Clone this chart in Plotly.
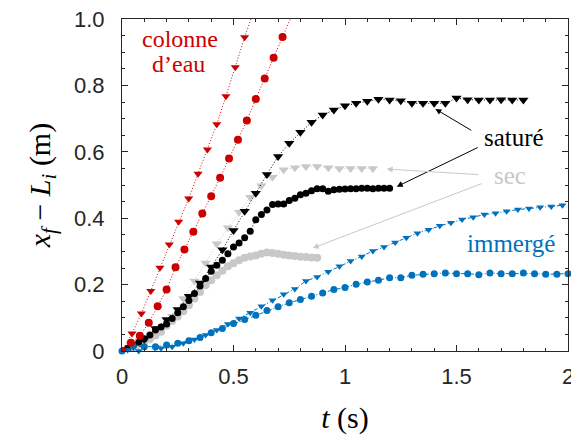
import numpy as np
import plotly.graph_objects as go

# ---------------- data ----------------
# colonne d'eau
red_tri_t = [0, 0.045, 0.087, 0.129, 0.170, 0.212, 0.254, 0.299, 0.341, 0.383, 0.425, 0.466, 0.508, 0.550]
red_tri_y = [0, 0.053, 0.113, 0.181, 0.251, 0.321, 0.389, 0.459, 0.534, 0.607, 0.683, 0.767, 0.855, 0.945]
red_cir_t = [0.04 * k for k in range(19)]
red_cir_y = [0, 0.025, 0.046, 0.085, 0.135, 0.185, 0.252, 0.306, 0.359, 0.414, 0.466, 0.522,
             0.580, 0.636, 0.694, 0.759, 0.821, 0.883, 0.946]

# saturé
sat_tri_t = [0.05 * k for k in range(37)]
sat_tri_y = [0, 0.015, 0.035, 0.068, 0.095, 0.125, 0.165, 0.205, 0.253, 0.305, 0.363, 0.421,
             0.475, 0.532, 0.586, 0.626, 0.659, 0.689, 0.711, 0.726, 0.739, 0.746, 0.752, 0.758,
             0.756, 0.754, 0.746, 0.746, 0.746, 0.746, 0.762, 0.757, 0.756, 0.756, 0.757, 0.756, 0.756]
sat_cir_t = [0.025 * k for k in range(49)]
sat_cir_y = [0, 0.008, 0.016, 0.026, 0.037, 0.048, 0.063, 0.072, 0.081, 0.098, 0.115, 0.133,
             0.152, 0.173, 0.196, 0.218, 0.240, 0.258, 0.273, 0.293, 0.313, 0.325, 0.341, 0.361,
             0.395, 0.411, 0.425, 0.441, 0.443, 0.443, 0.453, 0.460, 0.471, 0.475, 0.483, 0.489,
             0.489, 0.481, 0.486, 0.487, 0.488, 0.489, 0.489, 0.490, 0.490, 0.489, 0.490, 0.490, 0.490]

# sec
sec_tri_t = [0.025 + 0.05 * k for k in range(23)]
sec_tri_y = [0.005, 0.015, 0.035, 0.065, 0.105, 0.158, 0.211, 0.265, 0.323, 0.371, 0.418, 0.463,
             0.498, 0.523, 0.546, 0.552, 0.556, 0.556, 0.552, 0.550, 0.550, 0.550, 0.550]
sec_cir_t = [0.025 * k for k in range(36)]
sec_cir_y = [0, 0.005, 0.012, 0.020, 0.028, 0.037, 0.047, 0.058, 0.076, 0.090, 0.104, 0.120,
             0.138, 0.158, 0.178, 0.198, 0.213, 0.228, 0.242, 0.255, 0.264, 0.273, 0.281, 0.285,
             0.288, 0.293, 0.297, 0.295, 0.293, 0.290, 0.288, 0.286, 0.284, 0.283, 0.282, 0.281]

# immergé
imm_tri_t = [0.025 + 0.05 * k for k in range(40)]
imm_tri_y = [0.003, 0.0, -0.003, 0.008, 0.013, 0.023, 0.035, 0.048, 0.063, 0.081, 0.098, 0.115,
             0.135, 0.153, 0.171, 0.187, 0.211, 0.223, 0.239, 0.255, 0.271, 0.285, 0.301, 0.313,
             0.327, 0.341, 0.355, 0.365, 0.377, 0.386, 0.396, 0.403, 0.411, 0.415, 0.421, 0.426,
             0.429, 0.433, 0.435, 0.439]
imm_cir_t = [0.05 * k for k in range(41)]
imm_cir_y = [0, 0.015, 0.013, 0.013, 0.018, 0.023, 0.031, 0.041, 0.055, 0.068, 0.083, 0.095,
             0.108, 0.122, 0.133, 0.145, 0.155, 0.165, 0.175, 0.185, 0.191, 0.201, 0.208, 0.213,
             0.221, 0.221, 0.228, 0.231, 0.233, 0.235, 0.233, 0.233, 0.230, 0.235, 0.233, 0.233,
             0.235, 0.233, 0.231, 0.231, 0.233]

x_tickvals = [0, 0.5, 1, 1.5, 2]
x_ticktext = ["0", "0.5", "1", "1.5", "2"]
y_tickvals = [0, 0.2, 0.4, 0.6, 0.8, 1.0]
y_ticktext = ["0", "0.2", "0.4", "0.6", "0.8", "1.0"]

RED = "#CC0000"
BLUE = "#0072BD"
GRAY = "#C8C8C8"
BLACK = "#000000"
SERIF = "Liberation Serif"
DOT = "1px,2px"
DASHDOT = "4px,2px,1px,2px"

fig = go.Figure()


def add(t, y, color, symbol, size, dash, clip=True):
    fig.add_trace(go.Scatter(
        x=t, y=y, mode="lines+markers", cliponaxis=clip,
        line=dict(color=color, width=1, dash=dash),
        marker=dict(color=color, symbol=symbol, size=size, line=dict(width=0)),
        showlegend=False, hoverinfo="skip"))


def extend(t, y, color):
    # dotted fit line through the last points, carried to the top of the frame
    p = np.polyfit(t[-5:], y[-5:], 1)
    t_end = (1.05 - p[1]) / p[0]
    fig.add_trace(go.Scatter(x=[t[-1], t_end], y=[y[-1], np.polyval(p, t_end)],
                             mode="lines", line=dict(color=color, width=1, dash=DOT),
                             showlegend=False, hoverinfo="skip"))


add(sec_cir_t, sec_cir_y, GRAY, "circle", 8, DOT)
add(sec_tri_t, sec_tri_y, GRAY, "triangle-down", 9, DOT)
add(sat_cir_t, sat_cir_y, BLACK, "circle", 7, DOT)
add(sat_tri_t, sat_tri_y, BLACK, "triangle-down", 9, DOT)
add(imm_cir_t, imm_cir_y, BLUE, "circle", 7, DASHDOT, clip=False)
add(imm_tri_t, imm_tri_y, BLUE, "triangle-down", 7, DASHDOT, clip=False)
add(red_cir_t, red_cir_y, RED, "circle", 8, DOT)
add(red_tri_t, red_tri_y, RED, "triangle-down", 8, DOT)
extend(red_cir_t, red_cir_y, RED)
extend(red_tri_t, red_tri_y, RED)

# ---------------- annotations ----------------
def label(x, y, text, color, size=25):
    fig.add_annotation(x=x, y=y, text=text, xref="x", yref="y", showarrow=False,
                       font=dict(family=SERIF, size=size, color=color))


label(0.26, 0.94, "colonne", RED, 24)
label(0.255, 0.863, "d\u2019eau", RED, 24)
label(1.76, 0.643, "saturé", BLACK)
label(1.74, 0.53, "sec", GRAY)
label(1.745, 0.325, "immergé", BLUE)

arrows = [
    # (tail t, tail y, head t, head y, colour)
    (1.573, 0.662, 1.405, 0.729, BLACK),
    (1.602, 0.615, 1.232, 0.495, BLACK),
    (1.605, 0.531, 1.187, 0.548, GRAY),
    (1.620, 0.506, 0.855, 0.310, GRAY),
]
for tx, ty, hx, hy, c in arrows:
    fig.add_annotation(x=hx, y=hy, ax=tx, ay=ty, xref="x", yref="y", axref="x", ayref="y",
                       showarrow=True, arrowhead=2, arrowsize=1.2, arrowwidth=1,
                       arrowcolor=c, text="")

axis_common = dict(
    showline=True, linecolor="#262626", linewidth=1, mirror="ticks",
    ticks="inside", ticklen=6, tickwidth=1, tickcolor="#262626",
    showgrid=False, zeroline=False, automargin=False, ticklabeloverflow="allow",
    tickfont=dict(family="Liberation Sans", size=22, color="#262626"),
)

fig.update_xaxes(range=[0, 2], tickvals=x_tickvals, ticktext=x_ticktext,
                 minor=dict(ticks="inside", ticklen=3, dtick=0.1, tick0=0, tickcolor="#262626"),
                 title=dict(text="<i>t</i> (s)", font=dict(family=SERIF, size=30, color="#000"),
                            standoff=18),
                 ticklabelstandoff=6, **axis_common)
fig.update_yaxes(range=[0, 1], tickvals=y_tickvals, ticktext=y_ticktext,
                 minor=dict(ticks="inside", ticklen=3, dtick=0.05, tick0=0, tickcolor="#262626"),
                 title=dict(text="<i>x</i><sub><i>f</i></sub> \u2212 <i>L</i><sub><i>i</i></sub> (m)",
                            font=dict(family=SERIF, size=30, color="#000"), standoff=14),
                 ticklabelstandoff=12, **axis_common)

fig.update_layout(
    width=571, height=444,
    margin=dict(l=122, r=3, t=19, b=93),
    paper_bgcolor="white", plot_bgcolor="white",
)

fig.write_html("out.html", config={"displayModeBar": False},
               post_script="document.body.style.margin='0';document.body.style.padding='0';")
